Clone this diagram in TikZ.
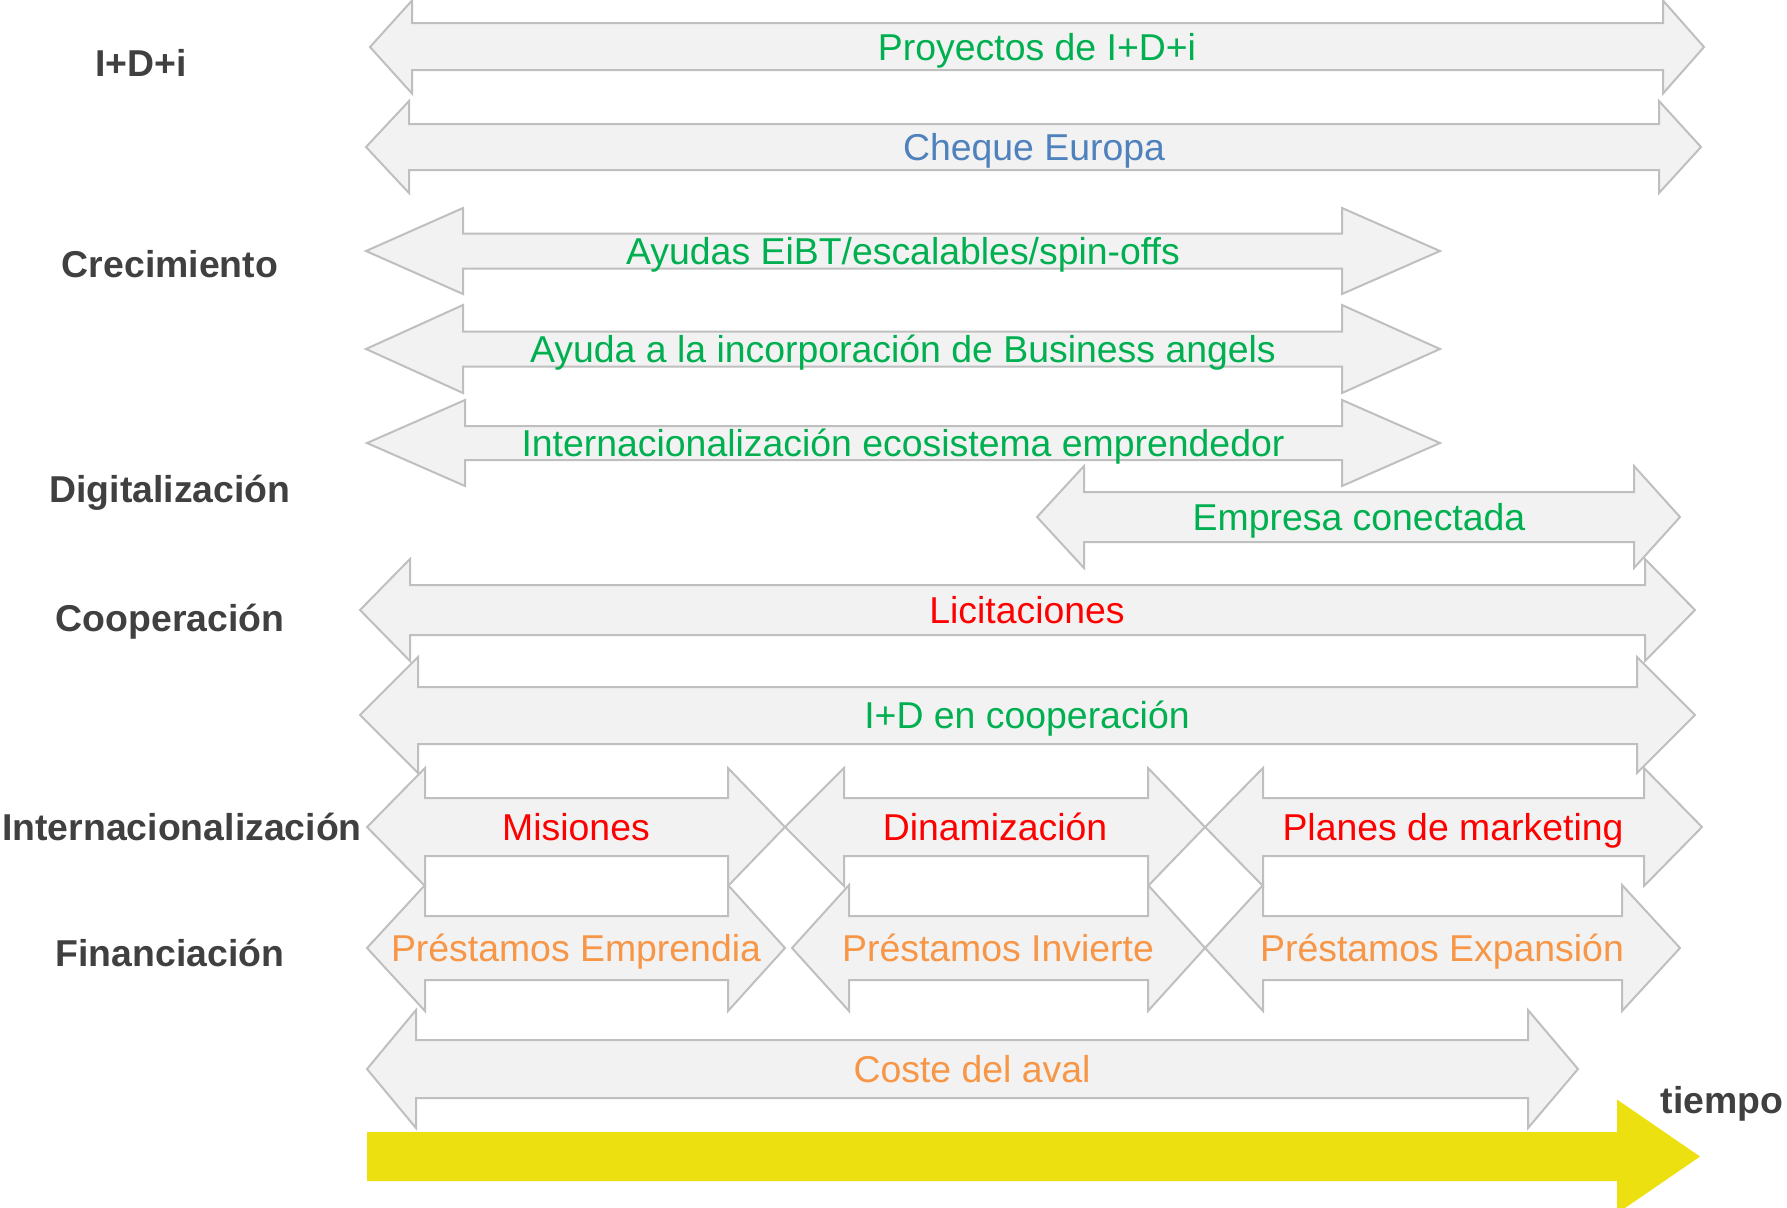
\documentclass[tikz,border=0pt]{standalone}
\usepackage{fontspec}
\setmainfont{Liberation Sans}
\definecolor{barfill}{RGB}{242,242,242}
\definecolor{barline}{RGB}{191,191,191}
\definecolor{txtgreen}{RGB}{0,176,80}
\definecolor{txtblue}{RGB}{79,129,189}
\definecolor{txtred}{RGB}{255,0,0}
\definecolor{txtorange}{RGB}{247,150,70}
\definecolor{timeyellow}{RGB}{237,224,16}
\definecolor{areagray}{RGB}{64,64,64}

\begin{document}
\begin{tikzpicture}[x=0.5pt,y=0.5pt,yscale=-1,xscale=1,
  bar/.style={draw=barline,fill=barfill,line width=1pt,line join=miter},
  lbl/.style={inner sep=0pt,text height=13.4pt,text depth=0pt,font=\fontsize{18.7}{22}\selectfont},
  area/.style={lbl,text=areagray,font=\fontsize{18.7}{22}\selectfont\bfseries}]
%set diagram left start at 0, and has height of 1207
\useasboundingbox (0,0) rectangle (1787,1207);

%Left-Right Arrow [Proyectos de I+D+i]
\draw [bar] (370,47) -- (412,0.5) -- (412,23) -- (1663,23) -- (1663,0.5) -- (1704,47) -- (1663,93.5) -- (1663,70) -- (412,70) -- (412,93.5) -- cycle ;
\node [lbl,txtgreen] (proy) at (1037,47) {Proyectos de I+D+i};
%Left-Right Arrow [Cheque Europa]
\draw [bar] (366,147) -- (409,101) -- (409,124) -- (1659,124) -- (1659,101) -- (1701,147) -- (1659,193) -- (1659,170) -- (409,170) -- (409,193) -- cycle ;
\node [lbl,txtblue] (cheque) at (1034,147) {Cheque Europa};

%Left-Right Arrow [Ayudas EiBT]
\draw [bar] (366,251) -- (463,208) -- (463,233.5) -- (1342,233.5) -- (1342,208) -- (1440,251) -- (1342,294) -- (1342,268.5) -- (463,268.5) -- (463,294) -- cycle ;
\node [lbl,txtgreen] (eibt) at (903,251) {Ayudas EiBT/escalables/spin-offs};
%Left-Right Arrow [Business angels]
\draw [bar] (366,349) -- (463,305) -- (463,331.5) -- (1342,331.5) -- (1342,305) -- (1440,349) -- (1342,393) -- (1342,366.5) -- (463,366.5) -- (463,393) -- cycle ;
\node [lbl,txtgreen] (angels) at (903,349) {Ayuda a la incorporación de Business angels};
%Left-Right Arrow [Internacionalizacion ecosistema]
\draw [bar] (367,443) -- (465,400) -- (465,426) -- (1342,426) -- (1342,400) -- (1440,443) -- (1342,486) -- (1342,460) -- (465,460) -- (465,486) -- cycle ;
\node [lbl,txtgreen] (ecosis) at (903,443) {Internacionalización ecosistema emprendedor};

%Left-Right Arrow [Empresa conectada]
\draw [bar] (1037,517) -- (1084,466) -- (1084,492) -- (1634,492) -- (1634,466) -- (1680,517) -- (1634,568) -- (1634,542) -- (1084,542) -- (1084,568) -- cycle ;
\node [lbl,txtgreen] (conect) at (1359,517) {Empresa conectada};

%Left-Right Arrow [Licitaciones]
\draw [bar] (360,610) -- (410,559) -- (410,585) -- (1645,585) -- (1645,559) -- (1695,610) -- (1645,661) -- (1645,635) -- (410,635) -- (410,661) -- cycle ;
\node [lbl,txtred] (licit) at (1027,610) {Licitaciones};
%Left-Right Arrow [I+D en cooperacion]
\draw [bar] (360,715) -- (418,657) -- (418,687) -- (1637,687) -- (1637,657) -- (1695,715) -- (1637,773) -- (1637,744) -- (418,744) -- (418,773) -- cycle ;
\node [lbl,txtgreen] (coop) at (1027,715) {I+D en cooperación};

%Left-Right Arrow [Misiones]
\draw [bar] (367,827) -- (425,768) -- (425,798) -- (728,798) -- (728,768) -- (785,827) -- (728,886) -- (728,856) -- (425,856) -- (425,886) -- cycle ;
\node [lbl,txtred] (misiones) at (576,827) {Misiones};
%Left-Right Arrow [Dinamizacion]
\draw [bar] (785,827) -- (844,768) -- (844,798) -- (1148,798) -- (1148,768) -- (1205,827) -- (1148,886) -- (1148,856) -- (844,856) -- (844,886) -- cycle ;
\node [lbl,txtred] (dinam) at (995,827) {Dinamización};
%Left-Right Arrow [Planes de marketing]
\draw [bar] (1205,827) -- (1263,768) -- (1263,798) -- (1644,798) -- (1644,768) -- (1702,827) -- (1644,886) -- (1644,856) -- (1263,856) -- (1263,886) -- cycle ;
\node [lbl,txtred] (planes) at (1453,827) {Planes de marketing};

%Left-Right Arrow [Prestamos Emprendia]
\draw [bar] (367,948) -- (425,885) -- (425,916) -- (728,916) -- (728,885) -- (785,948) -- (728,1011) -- (728,980) -- (425,980) -- (425,1011) -- cycle ;
\node [lbl,txtorange] (emprendia) at (576,948) {Préstamos Emprendia};
%Left-Right Arrow [Prestamos Invierte]
\draw [bar] (792,948) -- (849,885) -- (849,916) -- (1148,916) -- (1148,885) -- (1205,948) -- (1148,1011) -- (1148,980) -- (849,980) -- (849,1011) -- cycle ;
\node [lbl,txtorange] (invierte) at (998,948) {Préstamos Invierte};
%Left-Right Arrow [Prestamos Expansion]
\draw [bar] (1205,948) -- (1263,885) -- (1263,916) -- (1622,916) -- (1622,885) -- (1680,948) -- (1622,1011) -- (1622,980) -- (1263,980) -- (1263,1011) -- cycle ;
\node [lbl,txtorange] (expansion) at (1442,948) {Préstamos Expansión};

%Left-Right Arrow [Coste del aval]
\draw [bar] (367,1069) -- (416,1010) -- (416,1040) -- (1528,1040) -- (1528,1010) -- (1578,1069) -- (1528,1128) -- (1528,1098) -- (416,1098) -- (416,1128) -- cycle ;
\node [lbl,txtorange] (aval) at (972,1069) {Coste del aval};

%Right Arrow [time axis]
\fill [timeyellow] (367,1132) -- (1617,1132) -- (1617,1099.5) -- (1700,1156.5) -- (1617,1213.5) -- (1617,1181) -- (367,1181) -- cycle ;
\node [area] (tiempo) at (1722,1100) {tiempo};

%Row titles
\node [area] (idi) at (141,63) {I+D+i};
\node [area] (crec) at (170,264) {Crecimiento};
\node [area] (digi) at (170,489) {Digitalización};
\node [area] (coopt) at (170,618) {Cooperación};
\node [area] (inter) at (182,827) {Internacionalización};
\node [area] (finan) at (170,953) {Financiación};

\end{tikzpicture}
\end{document}
